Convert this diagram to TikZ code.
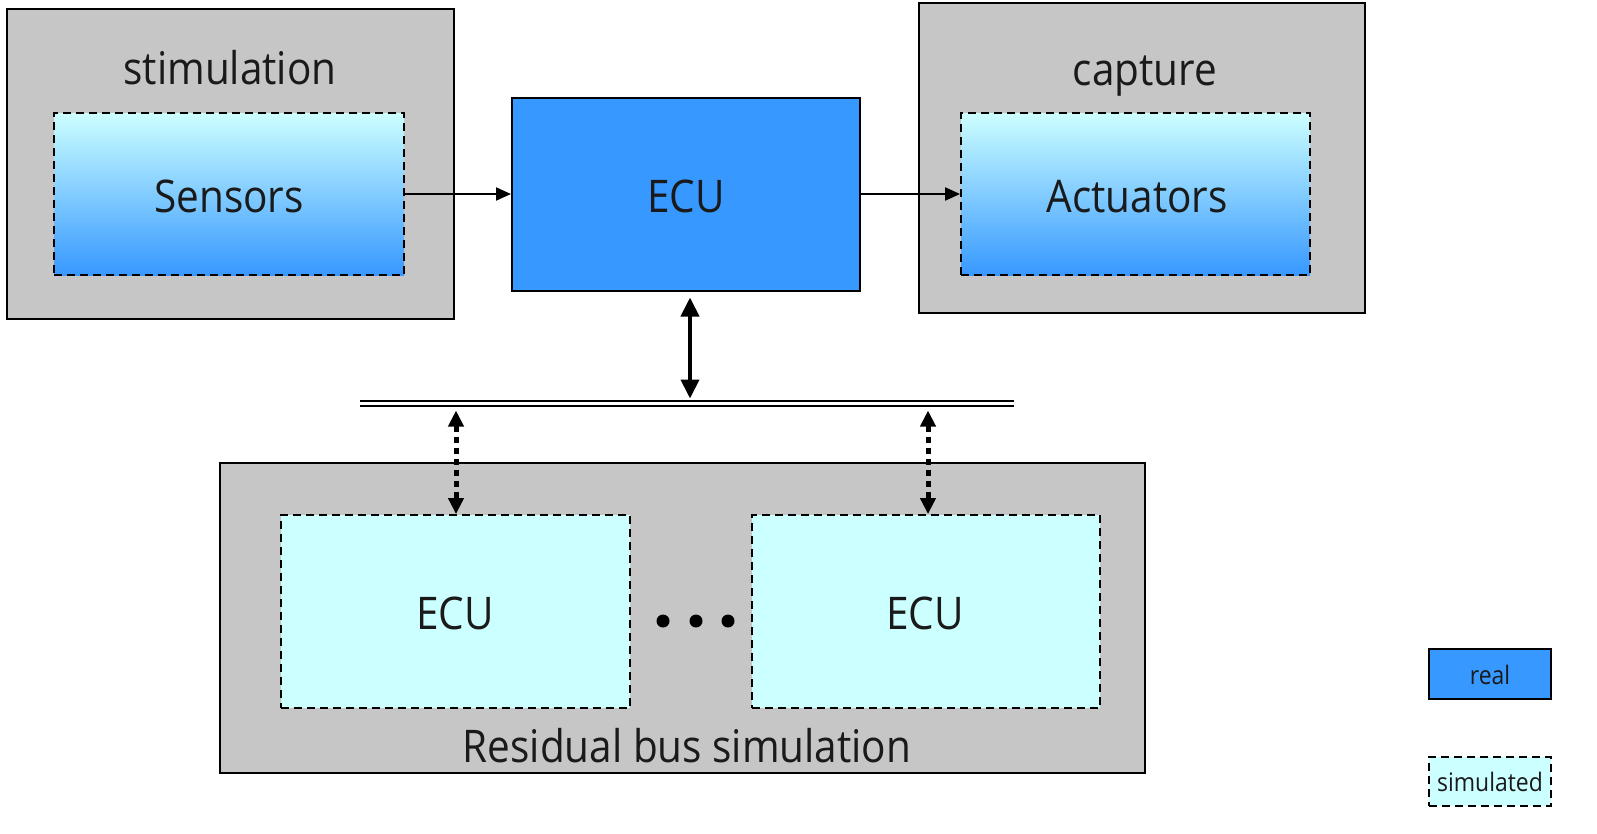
\documentclass[tikz,border=0pt]{standalone}
\usepackage{fontspec}
\setmainfont[FakeStretch=0.9]{Open Sans}
\usetikzlibrary{arrows.meta}
\definecolor{boxgray}{HTML}{C6C6C6}
\definecolor{realblue}{HTML}{3798FF}
\definecolor{simcyan}{HTML}{CCFFFF}
\definecolor{txt}{HTML}{1A1A1A}
\tikzset{
  outerbox/.style={draw=black, line width=2pt, fill=boxgray, inner sep=0pt, rectangle},
  gradbox/.style={draw=black, line width=1.8pt, dash pattern=on 8pt off 5pt, top color=simcyan, bottom color=realblue, inner sep=0pt, rectangle},
  simbox/.style={draw=black, line width=1.8pt, dash pattern=on 8pt off 5pt, fill=simcyan, inner sep=0pt, rectangle},
  realbox/.style={draw=black, line width=2pt, fill=realblue, inner sep=0pt, rectangle},
  bigtext/.style={font=\fontsize{45}{54}\selectfont, text=txt, inner sep=0pt},
  smalltext/.style={font=\fontsize{25.5}{30}\selectfont, text=txt},
  thinarrow/.style={line width=2pt, -{Triangle[length=15pt,width=13pt]}},
  busarrow/.style={line width=4pt, {Triangle[length=19pt,width=18pt]}-{Triangle[length=19pt,width=18pt]}},
  dotarrow/.style={line width=5pt, dash pattern=on 6pt off 5pt, {Triangle[length=16pt,width=15pt]}-{Triangle[length=16pt,width=15pt]}},
}
\begin{document}
\begin{tikzpicture}[x=1pt,y=-1pt]
\useasboundingbox (0,0) rectangle (1597,833);
% top row
\node[outerbox, minimum width=447pt, minimum height=310pt] (stim) at (230.5,164) {};
\node[bigtext] (stimlabel) at (230,68) {stimulation};
\node[gradbox, minimum width=350pt, minimum height=162pt] (sens) at (229,194) {};
\node[bigtext] (senslabel) at (229,196) {Sensors};
\node[realbox, minimum width=348pt, minimum height=193pt] (ecu) at (686,194) {};
\node[bigtext] (eculabel) at (686,196) {ECU};
\node[outerbox, minimum width=446pt, minimum height=310pt] (cap) at (1142,158) {};
\node[bigtext] (caplabel) at (1145,76) {capture};
\node[gradbox, minimum width=349pt, minimum height=162pt] (act) at (1135.5,194) {};
\node[bigtext] (actlabel) at (1137,197) {Actuators};
\draw[thinarrow] (sens.east) -- (ecu.west);
\draw[thinarrow] (ecu.east) -- (act.west);
% bus
\coordinate (busL) at (360,403.5);
\coordinate (busR) at (1014,403.5);
\draw[double=white, line width=2.2pt, double distance=3pt] (busL) -- (busR);
\coordinate (busmid) at (690,403.5);
\draw[busarrow, shorten <=6pt, shorten >=5pt] (busmid |- ecu.south) -- (busmid);
% residual bus simulation
\node[outerbox, minimum width=925pt, minimum height=310pt] (rbs) at (682.5,618) {};
\node[simbox, minimum width=349pt, minimum height=193pt] (ecua) at (455.5,611.5) {};
\node[bigtext] (ecualabel) at (455,613) {ECU};
\node[simbox, minimum width=348pt, minimum height=193pt] (ecub) at (926,611.5) {};
\node[bigtext] (ecublabel) at (925,613) {ECU};
\node[bigtext] (rbslabel) at (687,746) {Residual bus simulation};
\coordinate (bus1) at (456,403.5);
\coordinate (bus2) at (928,403.5);
\draw[dotarrow, shorten <=7pt] (bus1) -- (bus1 |- ecua.north);
\draw[dotarrow, shorten <=7pt] (bus2) -- (bus2 |- ecub.north);
\fill[black] (663,621) circle (6.5pt) (696,621) circle (6.5pt) (728,621) circle (6.5pt);
% legend
\node[realbox, minimum width=122pt, minimum height=50pt] (legreal) at (1490,674) {};
\node[smalltext] (legreallabel) at (1490,675) {real};
\node[simbox, minimum width=122pt, minimum height=49pt] (legsim) at (1490,781.5) {};
\node[smalltext] (legsimlabel) at (1490,782) {simulated};
\end{tikzpicture}
\end{document}
